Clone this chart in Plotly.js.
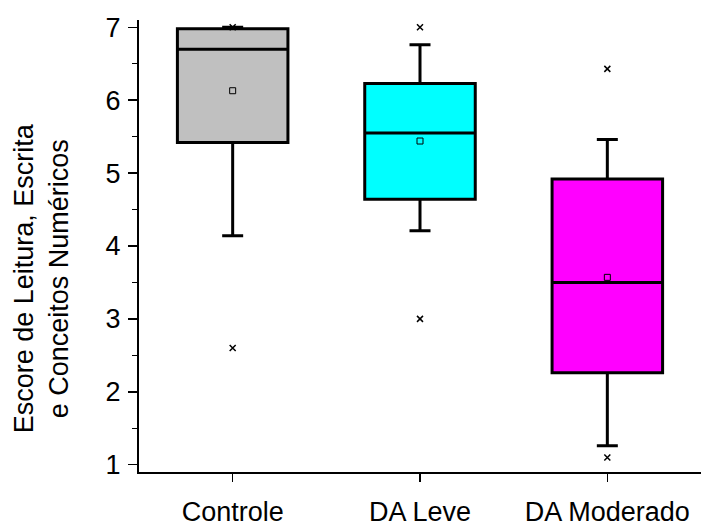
<!DOCTYPE html>
<html>
<head>
<meta charset="utf-8">
<script src="https://cdn.plot.ly/plotly-3.0.1.min.js"></script>
<style>html,body{margin:0;padding:0;background:#fff;}#chart{width:707px;height:527px;}</style>
</head>
<body>
<div id="chart"></div>
<script>
const categories = ["Controle", "DA Leve", "DA Moderado"];
const q1 = [5.42, 4.64, 2.26];
const medians = [6.70, 5.55, 3.50];
const q3 = [6.98, 6.23, 4.92];
const lowerWhisker = [4.14, 4.21, 1.26];
const upperWhisker = [7.00, 6.76, 5.46];
const means = [6.13, 5.44, 3.57];
const extremesMax = [7.00, 7.00, 6.43];
const extremesMin = [2.60, 3.00, 1.10];
const colors = ["#C0C0C0", "#00FFFF", "#FF00FF"];

const FONT = "Liberation Sans, Arial, sans-serif";
const FS = 27;

const traces = categories.map((c, i) => ({
  type: "box",
  x: [c],
  q1: [q1[i]],
  median: [medians[i]],
  q3: [q3[i]],
  lowerfence: [lowerWhisker[i]],
  upperfence: [upperWhisker[i]],
  fillcolor: colors[i],
  line: {color: "#000", width: 3},
  width: 0.59,
  whiskerwidth: 0.19,
  boxpoints: false,
  showlegend: false,
  hoverinfo: "skip"
}));

traces.push({
  type: "scatter", mode: "markers",
  x: categories, y: means,
  marker: {symbol: "square-open", size: 6, color: "#000", line: {width: 1, color: "#000"}},
  showlegend: false, hoverinfo: "skip"
});
traces.push({
  type: "scatter", mode: "markers",
  x: categories.concat(categories),
  y: extremesMax.concat(extremesMin),
  marker: {symbol: "x-thin", size: 6, color: "#000", line: {width: 1.5, color: "#000"}},
  showlegend: false, hoverinfo: "skip"
});

const layout = {
  width: 707, height: 527,
  margin: {l: 139, r: 6, t: 20, b: 55},
  paper_bgcolor: "#fff", plot_bgcolor: "#fff",
  font: {family: FONT, size: FS, color: "#000"},
  boxmode: "overlay",
  xaxis: {
    type: "category",
    range: [-0.5, 2.5],
    showline: true, linecolor: "#000", linewidth: 2,
    ticks: "outside", ticklen: 8, tickwidth: 1.5, tickcolor: "#000",
    showgrid: false, zeroline: false,
    ticklabelstandoff: 7,
    tickfont: {family: FONT, size: FS, color: "#000"}
  },
  yaxis: {
    range: [0.9, 7.1],
    tickvals: [1, 2, 3, 4, 5, 6, 7],
    showline: true, linecolor: "#000", linewidth: 2,
    ticks: "outside", ticklen: 9, tickwidth: 1.5, tickcolor: "#000",
    minor: {dtick: 0.5, tick0: 0, ticks: "outside", ticklen: 5, tickwidth: 1.5, tickcolor: "#000", showgrid: false},
    showgrid: false, zeroline: false,
    ticklabelstandoff: 2,
    tickfont: {family: FONT, size: FS, color: "#000"}
  },
  annotations: [{
    text: "Escore de Leitura, Escrita<br>e Conceitos Numéricos",
    xref: "paper", yref: "paper",
    x: -0.174, y: 0.429,
    xanchor: "center", yanchor: "middle",
    textangle: -90, showarrow: false,
    font: {family: FONT, size: FS, color: "#000"}
  }]
};

Plotly.newPlot("chart", traces, layout, {staticPlot: true});
</script>
</body>
</html>
